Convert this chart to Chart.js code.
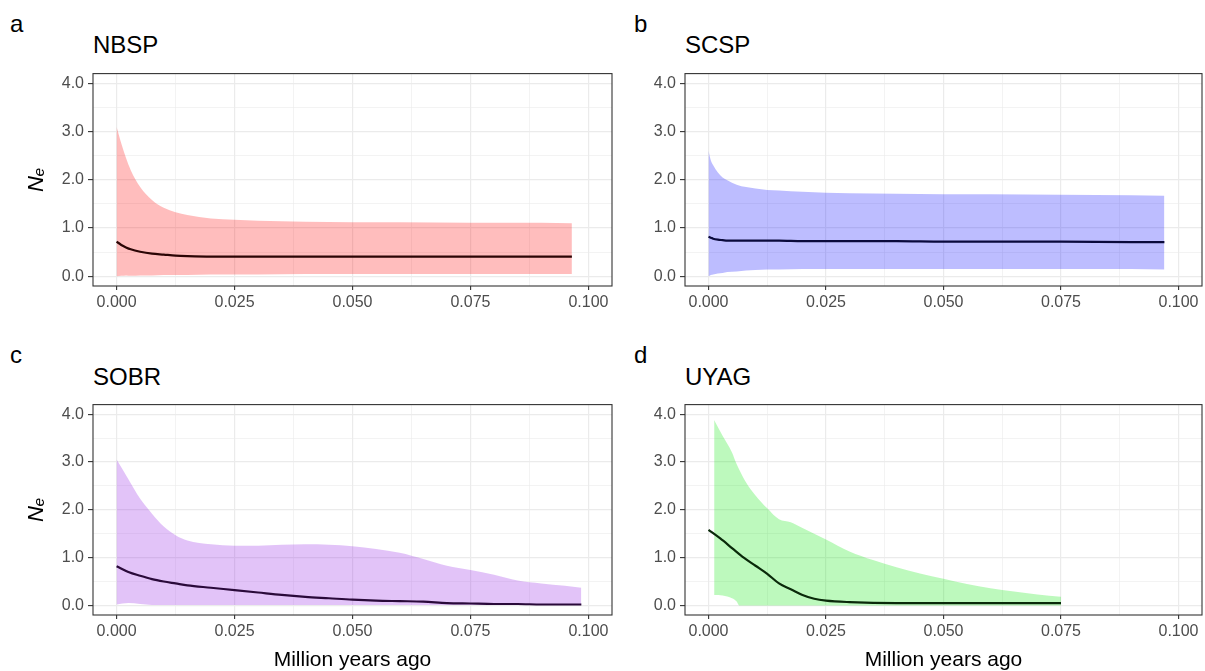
<!DOCTYPE html>
<html>
<head>
<meta charset="utf-8">
<script src="https://cdn.jsdelivr.net/npm/chart.js@4.4.1/dist/chart.umd.min.js"></script>
<style>
  body { margin: 0; width: 1205px; height: 671px; background: #fff; position: relative; overflow: hidden; }
  canvas { position: absolute; }
  .lbl { position: absolute; font-family: "Liberation Sans", Arial, sans-serif; color: #000; line-height: 1; white-space: nowrap; }
  .tag { font-size: 24px; }
  .ttl { font-size: 24px; }
</style>
</head>
<body>
<div class="lbl tag" style="left:10px;top:12px">a</div>
<div class="lbl ttl" style="left:93px;top:33px">NBSP</div>
<div class="lbl tag" style="left:634px;top:12px">b</div>
<div class="lbl ttl" style="left:685px;top:33px">SCSP</div>
<div class="lbl tag" style="left:10px;top:343px">c</div>
<div class="lbl ttl" style="left:93px;top:365px">SOBR</div>
<div class="lbl tag" style="left:634px;top:343px">d</div>
<div class="lbl ttl" style="left:685px;top:365px">UYAG</div>

<canvas id="panelA" width="595" height="256" style="left:25px;top:60px"></canvas>
<canvas id="panelB" width="588" height="256" style="left:617px;top:60px"></canvas>
<canvas id="panelC" width="595" height="280" style="left:25px;top:391px"></canvas>
<canvas id="panelD" width="588" height="280" style="left:617px;top:391px"></canvas>

<script>
// axis ticks (every other one is a minor grid line)
const xTicks = [0, 0.0125, 0.025, 0.0375, 0.05, 0.0625, 0.075, 0.0875, 0.1];
const xTickLabels = ['0.000', '0.025', '0.050', '0.075', '0.100'];
const yTicks = [0, 0.5, 1, 1.5, 2, 2.5, 3, 3.5, 4];
const yTickLabels = ['0.0', '1.0', '2.0', '3.0', '4.0'];

// NBSP
const nbspX = [0, 0.001, 0.002, 0.003, 0.005, 0.0075, 0.01, 0.0125, 0.015, 0.02, 0.025, 0.03, 0.04, 0.05, 0.06, 0.075, 0.09, 0.0965];
const nbspUpper = [3.1, 2.75, 2.45, 2.2, 1.85, 1.58, 1.42, 1.33, 1.27, 1.2, 1.17, 1.15, 1.13, 1.12, 1.12, 1.11, 1.11, 1.1];
const nbspLower = [0.0, 0.01, 0.02, 0.01, 0.02, 0.02, 0.03, 0.03, 0.03, 0.04, 0.04, 0.04, 0.05, 0.05, 0.05, 0.05, 0.05, 0.05];
const nbspMedian = [0.72, 0.65, 0.6, 0.56, 0.51, 0.47, 0.45, 0.43, 0.42, 0.41, 0.41, 0.41, 0.41, 0.41, 0.41, 0.41, 0.41, 0.41];

// SCSP
const scspX = [0, 0.0005, 0.001, 0.002, 0.003, 0.004, 0.006, 0.008, 0.01, 0.0125, 0.015, 0.02, 0.025, 0.03, 0.04, 0.05, 0.06, 0.075, 0.09, 0.097];
const scspUpper = [2.6, 2.4, 2.3, 2.15, 2.05, 1.99, 1.9, 1.85, 1.82, 1.79, 1.78, 1.75, 1.73, 1.72, 1.71, 1.70, 1.70, 1.69, 1.68, 1.67];
const scspLower = [0.0, 0.03, 0.04, 0.06, 0.07, 0.09, 0.1, 0.12, 0.13, 0.14, 0.14, 0.15, 0.15, 0.15, 0.15, 0.15, 0.15, 0.15, 0.15, 0.14];
const scspMedian = [0.82, 0.8, 0.78, 0.76, 0.75, 0.74, 0.74, 0.74, 0.74, 0.74, 0.74, 0.73, 0.73, 0.73, 0.73, 0.72, 0.72, 0.72, 0.71, 0.71];

// SOBR
const sobrX = [0, 0.0025, 0.005, 0.0075, 0.01, 0.0125, 0.015, 0.02, 0.025, 0.03, 0.035, 0.04, 0.045, 0.05, 0.055, 0.06, 0.065, 0.07, 0.075, 0.08, 0.085, 0.09, 0.095, 0.0985];
const sobrUpper = [3.05, 2.64, 2.23, 1.92, 1.65, 1.47, 1.36, 1.28, 1.25, 1.25, 1.27, 1.28, 1.27, 1.24, 1.18, 1.1, 0.97, 0.83, 0.74, 0.64, 0.52, 0.46, 0.41, 0.37];
const sobrLower = [0.02, 0.05, 0.03, 0.01, 0.01, 0.01, 0.01, 0.01, 0.01, 0.01, 0.01, 0.01, 0.01, 0.01, 0.01, 0.01, 0.01, 0.01, 0.01, 0.01, 0.01, 0.01, 0.01, 0.01];
const sobrMedian = [0.82, 0.7, 0.62, 0.55, 0.5, 0.46, 0.42, 0.37, 0.32, 0.27, 0.22, 0.18, 0.15, 0.12, 0.1, 0.09, 0.08, 0.05, 0.04, 0.03, 0.03, 0.02, 0.02, 0.02];

// UYAG (ribbon starts a little after the median line)
const uyagX = [0.0012, 0.003, 0.005, 0.006, 0.0065, 0.008, 0.01, 0.0125, 0.015, 0.0175, 0.02, 0.025, 0.03, 0.035, 0.04, 0.045, 0.05, 0.055, 0.06, 0.065, 0.07, 0.075];
const uyagUpper = [3.88, 3.55, 3.2, 2.95, 2.85, 2.57, 2.3, 2.03, 1.8, 1.74, 1.62, 1.38, 1.13, 0.95, 0.8, 0.67, 0.56, 0.45, 0.36, 0.29, 0.23, 0.18];
const uyagLower = [0.22, 0.21, 0.15, 0.08, 0.0, 0.0, 0.0, 0.0, 0.0, 0.0, 0.0, 0.0, 0.0, 0.0, 0.0, 0.0, 0.0, 0.0, 0.0, 0.0, 0.0, 0.0];
const uyagMedX = [0, 0.0025, 0.005, 0.0075, 0.01, 0.0125, 0.015, 0.0175, 0.02, 0.0225, 0.025, 0.03, 0.04, 0.05, 0.06, 0.075];
const uyagMedian = [1.58, 1.4, 1.2, 1.0, 0.83, 0.66, 0.46, 0.34, 0.22, 0.14, 0.1, 0.07, 0.05, 0.05, 0.05, 0.05];

const FONT = '"Liberation Sans", Arial, sans-serif';
const pts = (xs, ys) => xs.map((x, i) => ({ x: x, y: ys[i] }));

// ggplot-like panel border
const boxPlugin = {
  id: 'box',
  afterDatasetsDraw(chart) {
    const a = chart.chartArea, ctx = chart.ctx;
    ctx.save();
    ctx.strokeStyle = '#333333';
    ctx.lineWidth = 1.1;
    ctx.strokeRect(a.left, a.top, a.right - a.left, a.bottom - a.top);
    ctx.restore();
  }
};

function gridOpts(tl) {
  return {
    color: '#ebebeb',
    lineWidth: c => (c.tick && c.tick.minor) ? 0.6 : 1.2,
    tickLength: tl,
    tickWidth: 1.1,
    tickColor: c => (c.tick && c.tick.minor) ? 'rgba(0,0,0,0)' : '#333333'
  };
}

function panel(id, p) {
  new Chart(document.getElementById(id), {
    type: 'line',
    data: {
      datasets: [
        { data: pts(p.medX, p.median), borderColor: p.line, borderWidth: 2.2, pointRadius: 0,
          cubicInterpolationMode: 'monotone', fill: false },
        { data: pts(p.ribX, p.upper), borderWidth: 0, borderColor: 'rgba(0,0,0,0)', pointRadius: 0,
          backgroundColor: p.fill, fill: '+1', cubicInterpolationMode: 'monotone' },
        { data: pts(p.ribX, p.lower), borderWidth: 0, borderColor: 'rgba(0,0,0,0)', pointRadius: 0,
          fill: false, cubicInterpolationMode: 'monotone' }
      ]
    },
    options: {
      responsive: false,
      animation: false,
      layout: { padding: { top: 10, right: p.padRight, bottom: 0, left: 0 } },
      plugins: { legend: { display: false }, tooltip: { enabled: false } },
      scales: {
        x: {
          type: 'linear', min: -0.005, max: 0.105,
          afterBuildTicks: s => { s.ticks = xTicks.map((v, i) => ({ value: v, minor: i % 2 === 1 })); },
          afterFit: s => { s.height = p.xHeight; },
          ticks: { autoSkip: false, maxRotation: 0, padding: 3, color: '#4d4d4d',
                   font: { family: FONT, size: 16 },
                   callback: (v, i) => i % 2 ? '' : xTickLabels[i / 2] },
          grid: gridOpts(4),
          border: { display: false },
          title: { display: !!p.xTitle, text: p.xTitle || '', color: '#000',
                   font: { family: FONT, size: 21, lineHeight: 1 }, padding: { top: 0, bottom: 0 } }
        },
        y: {
          type: 'linear', min: -0.2, max: 4.2,
          afterBuildTicks: s => { s.ticks = yTicks.map((v, i) => ({ value: v, minor: i % 2 === 1 })); },
          afterFit: s => { s.width = 68; },
          ticks: { autoSkip: false, padding: 4, color: '#4d4d4d',
                   font: { family: FONT, size: 16 },
                   callback: (v, i) => i % 2 ? '' : yTickLabels[i / 2] },
          grid: gridOpts(5),
          border: { display: false },
          title: { display: !!p.yTitle, text: p.yTitle || '', color: '#000',
                   font: { family: FONT, size: 22, style: 'italic', lineHeight: 1 }, padding: { top: 1, bottom: 0 } }
        }
      }
    },
    plugins: [boxPlugin]
  });
}

panel('panelA', { ribX: nbspX, upper: nbspUpper, lower: nbspLower, medX: nbspX, median: nbspMedian,
  fill: 'rgba(255,0,0,0.26)', line: '#2b0505', yTitle: 'N\u2091', xHeight: 30, padRight: 8 });
panel('panelB', { ribX: scspX, upper: scspUpper, lower: scspLower, medX: scspX, median: scspMedian,
  fill: 'rgba(0,0,255,0.26)', line: '#0a0a3c', xHeight: 30, padRight: 3 });
panel('panelC', { ribX: sobrX, upper: sobrUpper, lower: sobrLower, medX: sobrX, median: sobrMedian,
  fill: 'rgba(150,40,230,0.28)', line: '#2a0a3a', yTitle: 'N\u2091', xTitle: 'Million years ago', xHeight: 56, padRight: 8 });
panel('panelD', { ribX: uyagX, upper: uyagUpper, lower: uyagLower, medX: uyagMedX, median: uyagMedian,
  fill: 'rgba(0,230,0,0.26)', line: '#0a2a0a', xTitle: 'Million years ago', xHeight: 56, padRight: 3 });
</script>
</body>
</html>
